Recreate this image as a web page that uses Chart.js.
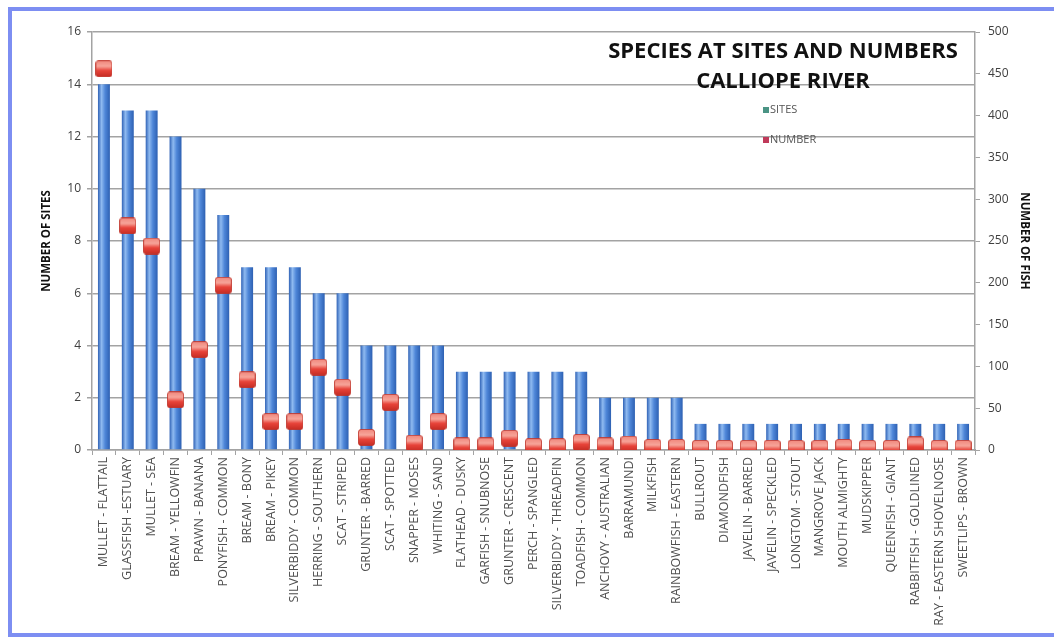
<!DOCTYPE html>
<html>
<head>
<meta charset="utf-8">
<script src="https://cdn.jsdelivr.net/npm/chart.js@4.4.1/dist/chart.umd.min.js"></script>
<style>
  html, body { margin: 0; padding: 0; background: #fff; overflow: hidden; }
  #frame {
    position: absolute; left: 8px; top: 7px; width: 1060px; height: 622px;
    border: 4px solid #7d8ef2; background: #fff;
  }
  #fish-chart { display: block; }
</style>
</head>
<body>
<div id="frame"><canvas id="fish-chart" width="1042" height="622"></canvas></div>
<script>
// ===================================
// DATA
// ===================================

const species = [
    'MULLET - FLATTAIL', 'GLASSFISH -ESTUARY', 'MULLET - SEA', 'BREAM - YELLOWFIN',
    'PRAWN - BANANA', 'PONYFISH - COMMON', 'BREAM - BONY', 'BREAM - PIKEY',
    'SILVERBIDDY - COMMON', 'HERRING - SOUTHERN', 'SCAT - STRIPED', 'GRUNTER - BARRED',
    'SCAT - SPOTTED', 'SNAPPER - MOSES', 'WHITING - SAND', 'FLATHEAD - DUSKY',
    'GARFISH - SNUBNOSE', 'GRUNTER - CRESCENT', 'PERCH - SPANGLED', 'SILVERBIDDY - THREADFIN',
    'TOADFISH - COMMON', 'ANCHOVY - AUSTRALIAN', 'BARRAMUNDI', 'MILKFISH',
    'RAINBOWFISH - EASTERN', 'BULLROUT', 'DIAMONDFISH', 'JAVELIN - BARRED',
    'JAVELIN - SPECKLED', 'LONGTOM - STOUT', 'MANGROVE JACK', 'MOUTH ALMIGHTY',
    'MUDSKIPPER', 'QUEENFISH - GIANT', 'RABBITFISH - GOLDLINED', 'RAY - EASTERN SHOVELNOSE',
    'SWEETLIPS - BROWN'
];

const sites = [
    14, 13, 13, 12, 10, 9, 7, 7, 7, 6, 6, 4, 4, 4, 4, 3, 3, 3, 3, 3,
    3, 2, 2, 2, 2, 1, 1, 1, 1, 1, 1, 1, 1, 1, 1, 1, 1
];

const fishNumbers = [
    456, 268, 244, 60, 120, 197, 84, 34, 34, 99, 75, 15, 57, 8, 34, 5,
    5, 14, 4, 4, 9, 5, 7, 3, 3, 2, 2, 2, 2, 2, 2, 3, 2, 2, 6, 2, 2
];

const sitesTicks = [0, 2, 4, 6, 8, 10, 12, 14, 16];
const fishTicks = [0, 50, 100, 150, 200, 250, 300, 350, 400, 450, 500];

const titleLines = ['SPECIES AT SITES AND NUMBERS', 'CALLIOPE RIVER'];

// ===================================
// STYLES
// ===================================

const textColor = '#404040';
const gridColor = '#a3a3a3';
const baseFont = '"Open Sans", "DejaVu Sans", sans-serif';

// red rounded-square marker, like the Excel one
function makeMarker() {
    const c = document.createElement('canvas');
    c.width = 17;
    c.height = 17;
    const g = c.getContext('2d');
    const grad = g.createLinearGradient(0, 0, 0, 17);
    grad.addColorStop(0, '#f0857a');
    grad.addColorStop(0.35, '#f7a59a');
    grad.addColorStop(0.6, '#e8443a');
    grad.addColorStop(1, '#c22a22');
    g.fillStyle = grad;
    g.beginPath();
    g.roundRect(0.5, 0.5, 16, 16, 2.5);
    g.fill();
    g.strokeStyle = 'rgba(190,50,40,0.8)';
    g.lineWidth = 1;
    g.stroke();
    return c;
}

// give each bar its own shaded fill once the bars have positions
const barShadePlugin = {
    id: 'barShade',
    beforeDatasetsDraw(chart) {
        const meta = chart.getDatasetMeta(1);
        const ctx = chart.ctx;
        meta.data.forEach(bar => {
            const half = bar.width / 2;
            if (!isFinite(bar.x) || !isFinite(half)) return;
            const grad = ctx.createLinearGradient(bar.x - half, 0, bar.x + half, 0);
            grad.addColorStop(0, '#2f62b6');
            grad.addColorStop(0.3, '#8fbaf0');
            grad.addColorStop(0.6, '#4e86d8');
            grad.addColorStop(1, '#2d60b2');
            bar.options = Object.assign({}, bar.options, { backgroundColor: grad });
        });
    }
};

// title + legend sit inside the plot area
const overlayPlugin = {
    id: 'overlay',
    afterDraw(chart) {
        const ctx = chart.ctx;
        ctx.save();
        ctx.fillStyle = '#111';
        ctx.textAlign = 'center';
        ctx.textBaseline = 'middle';
        ctx.font = 'bold 22px ' + baseFont;
        ctx.fillText(titleLines[0], 771, 41);
        ctx.fillText(titleLines[1], 771, 71);

        ctx.textAlign = 'left';
        ctx.font = '11px ' + baseFont;
        ctx.fillStyle = '#4a9484';
        ctx.fillRect(751, 96, 6, 6);
        ctx.fillStyle = '#c03a5a';
        ctx.fillRect(751, 126, 6, 6);
        ctx.fillStyle = '#555';
        ctx.fillText('SITES', 758, 99);
        ctx.fillText('NUMBER', 758, 129);
        ctx.restore();
    }
};

// ===================================
// CHART
// ===================================

const ctx = document.getElementById('fish-chart');

new Chart(ctx, {
    type: 'bar',
    data: {
        labels: species,
        datasets: [
            {
                type: 'line',
                label: 'NUMBER',
                data: fishNumbers,
                yAxisID: 'y1',
                showLine: false,
                pointStyle: makeMarker(),
                pointRadius: 8,
                pointHoverRadius: 8,
                order: 0
            },
            {
                label: 'SITES',
                data: sites,
                yAxisID: 'y',
                backgroundColor: '#4b82d2',
                borderWidth: 0,
                barPercentage: 0.5,
                categoryPercentage: 1,
                order: 1
            }
        ]
    },
    options: {
        responsive: false,
        animation: false,
        layout: {
            padding: { top: 21, left: 28, right: 19, bottom: 0 }
        },
        plugins: {
            legend: { display: false },
            tooltip: { enabled: false }
        },
        scales: {
            x: {
                offset: true,
                grid: {
                    offset: true,
                    drawOnChartArea: false,
                    drawTicks: true,
                    tickLength: 5,
                    color: gridColor
                },
                border: { color: gridColor, width: 1.5 },
                ticks: {
                    autoSkip: false,
                    minRotation: 90,
                    maxRotation: 90,
                    color: '#505050',
                    padding: 2,
                    font: { family: baseFont, size: 12.5 }
                },
                afterFit(scale) { scale.height = 183; }
            },
            y: {
                position: 'left',
                min: 0,
                max: 16,
                afterBuildTicks(scale) { scale.ticks = sitesTicks.map(v => ({ value: v })); },
                grid: {
                    color: gridColor,
                    lineWidth: 1.5,
                    tickLength: 5
                },
                border: { color: gridColor, width: 1.5 },
                ticks: {
                    color: textColor,
                    padding: 6,
                    font: { family: baseFont, size: 12 }
                },
                title: {
                    display: true,
                    text: 'NUMBER OF SITES',
                    color: '#111',
                    padding: { top: 0, bottom: 4 },
                    font: { family: baseFont, size: 11.5, weight: 'bold' }
                },
                afterFit(scale) { scale.width = 52; }
            },
            y1: {
                position: 'right',
                min: 0,
                max: 500,
                afterBuildTicks(scale) { scale.ticks = fishTicks.map(v => ({ value: v })); },
                grid: {
                    drawOnChartArea: false,
                    color: gridColor,
                    tickLength: 5
                },
                border: { color: gridColor, width: 1.5 },
                ticks: {
                    color: textColor,
                    padding: 8,
                    font: { family: baseFont, size: 12 }
                },
                title: {
                    display: true,
                    text: 'NUMBER OF FISH',
                    color: '#111',
                    padding: { top: 4, bottom: 0 },
                    font: { family: baseFont, size: 11.5, weight: 'bold' }
                },
                afterFit(scale) { scale.width = 60; }
            }
        }
    },
    plugins: [barShadePlugin, overlayPlugin]
});
</script>
</body>
</html>
